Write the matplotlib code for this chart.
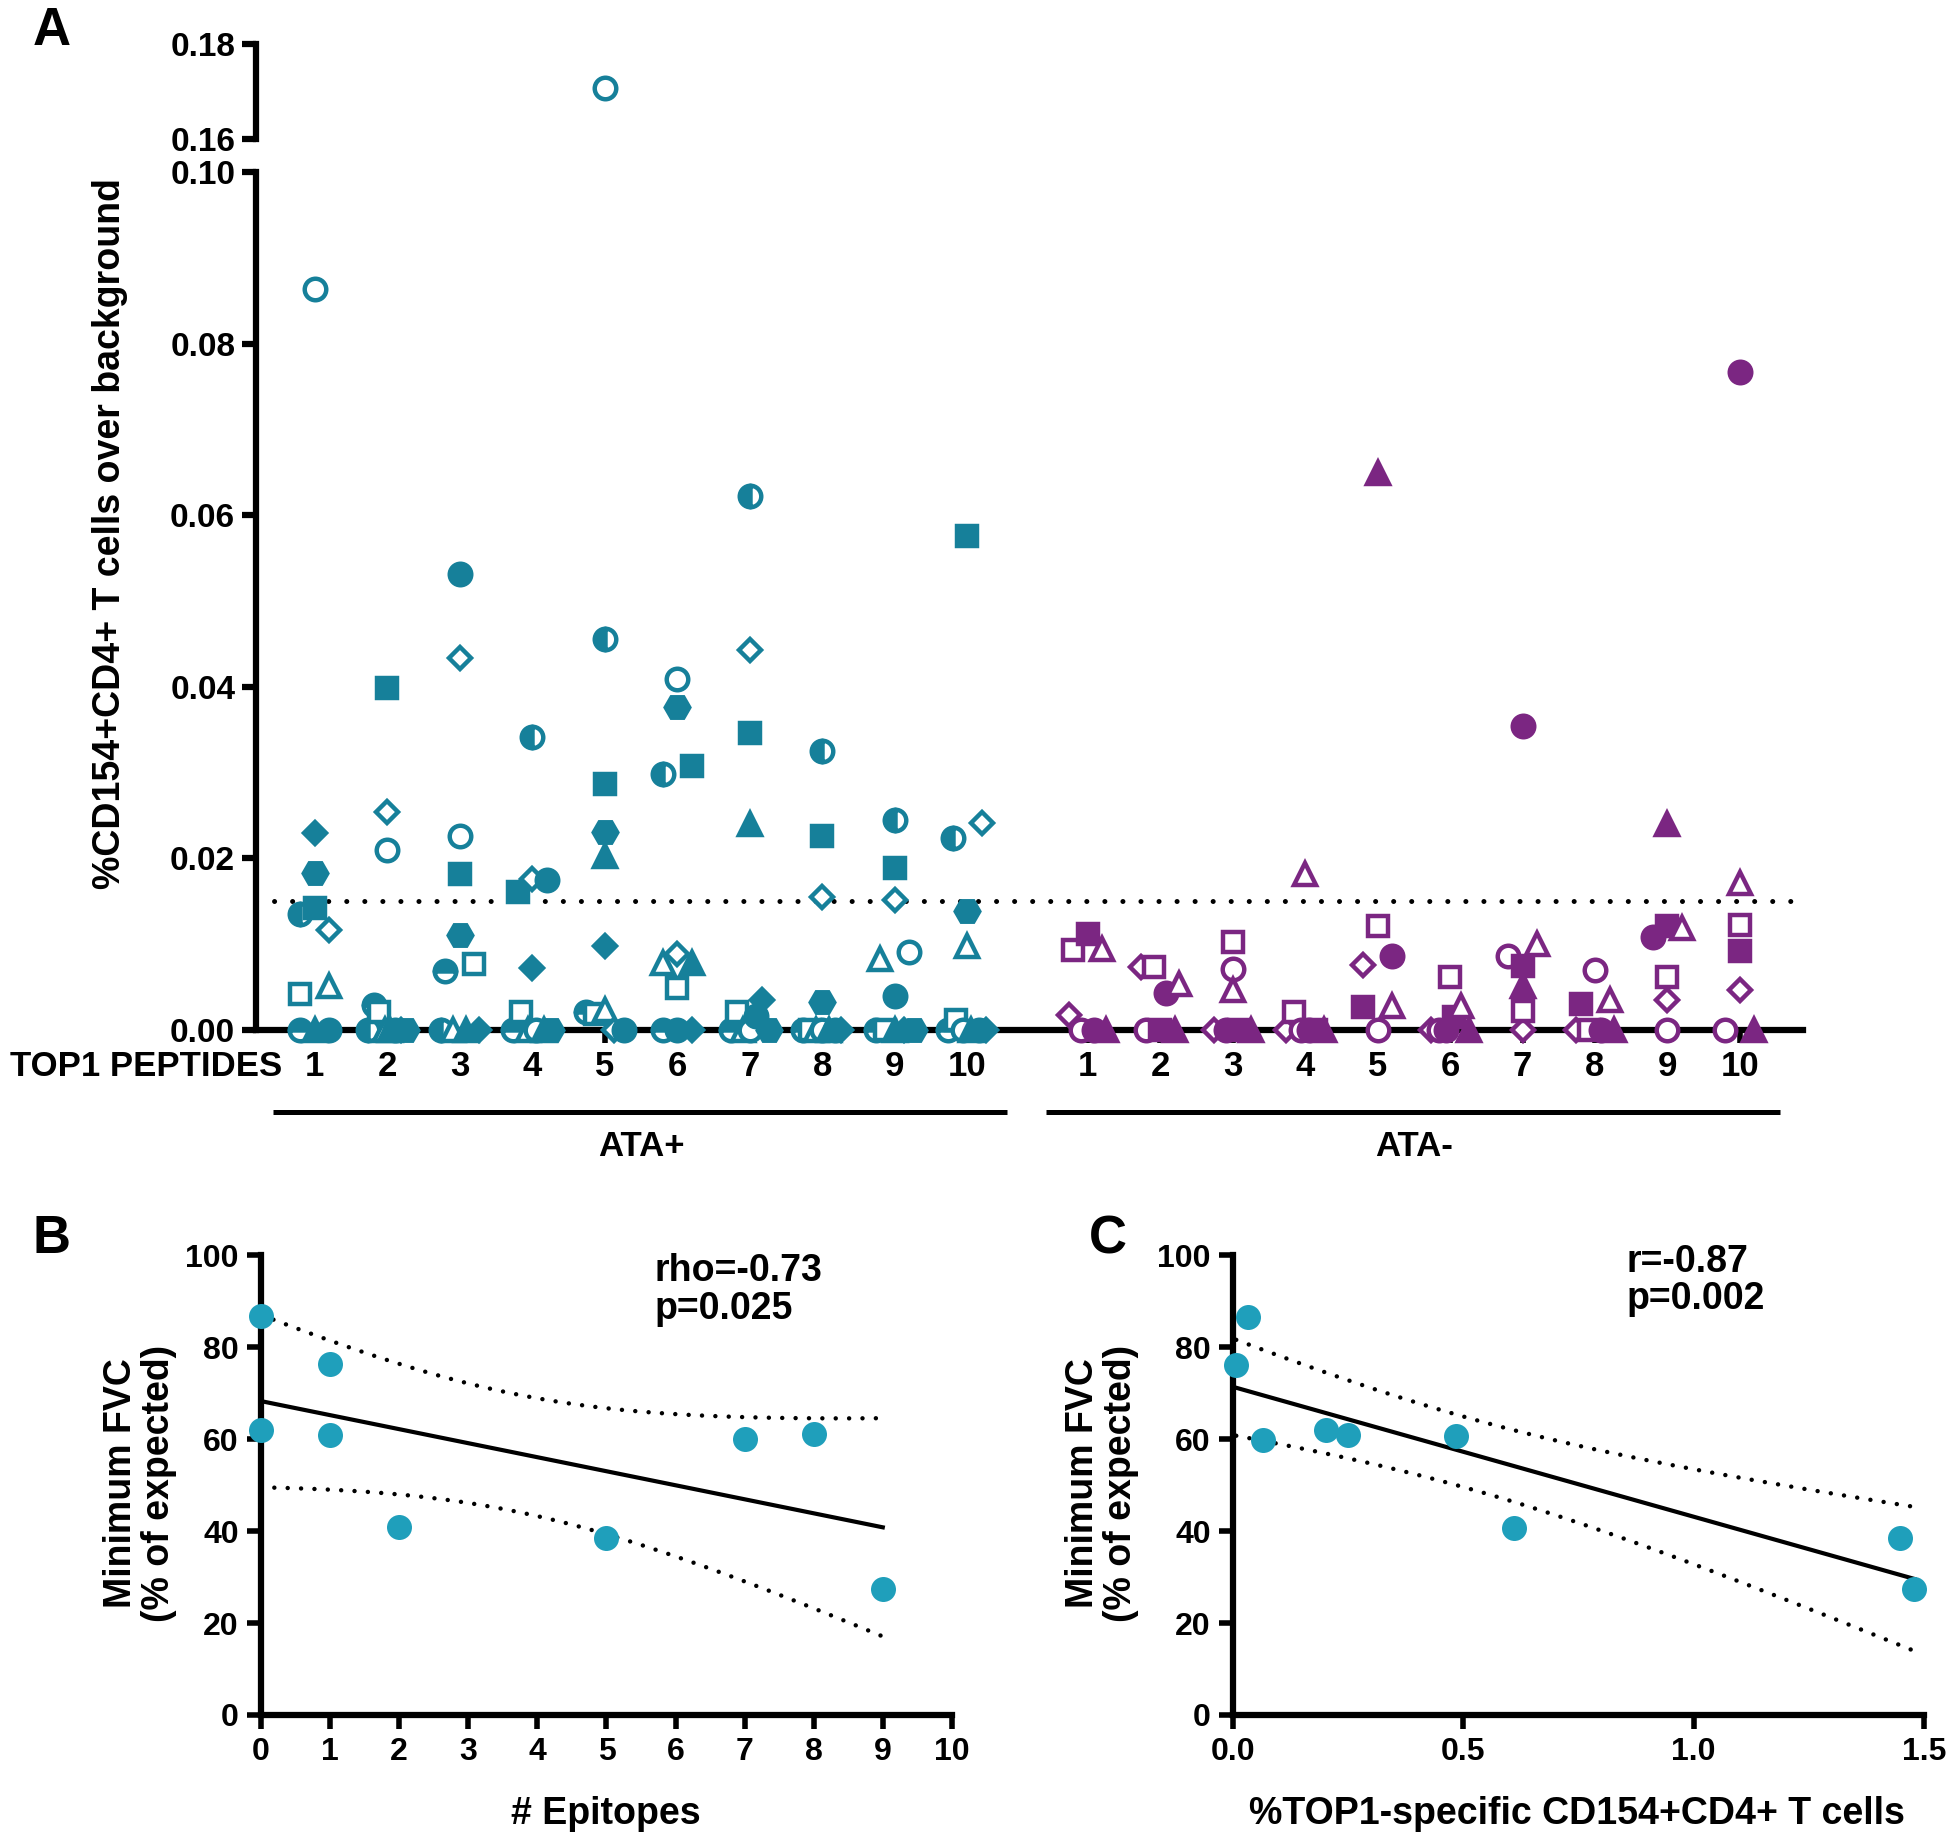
import numpy as np
import matplotlib
matplotlib.use('Agg')
import matplotlib.pyplot as plt
from matplotlib.transforms import blended_transform_factory

plt.rcParams['font.family'] = ['Liberation Sans', 'DejaVu Sans']
plt.rcParams['font.weight'] = 'bold'

TEAL = '#16809a'
PURPLE = '#7b2682'
CYAN = '#1f9fbb'

### Panel A: %CD154+CD4+ T cells over background, one value per TOP1 peptide (1-10)
peptide_labels = ['1', '2', '3', '4', '5', '6', '7', '8', '9', '10']
cutoff = 0.015

# ATA+ patients (one list per symbol)
pos_half_left = [0.0135, 0, 0, 0.0341, 0.0456, 0.0298, 0.0622, 0.0325, 0.0244, 0.0224]
pos_half_top = [0, 0.0029, 0.0068, 0, 0.0021, 0, 0, 0, 0, 0]
pos_filled_square = [0.0142, 0.0399, 0.0181, 0.0160, 0.0286, 0.0307, 0.0346, 0.0226, 0.0189, 0.0576]
pos_open_square = [0.0042, 0.0020, 0.0076, 0.0020, 0.0018, 0.0048, 0.0021, 0, 0, 0.0011]
pos_open_triangle = [0.0051, 0, 0, 0, 0.0023, 0.0078, 0, 0, 0.0082, 0.0098]
pos_open_circle = [0.0864, 0.0210, 0.0226, 0, 0.1707, 0.0409, 0, 0, 0.0090, 0]
pos_open_diamond = [0.0116, 0.0254, 0.0434, 0.0176, 0, 0.0088, 0.0443, 0.0155, 0.0151, 0.0241]
pos_filled_triangle = [0, 0, 0, 0, 0.0203, 0.0078, 0.0240, 0, 0, 0]
pos_filled_circle = [0, 0, 0.0531, 0.0175, 0, 0, 0.0016, 0, 0.0039, 0]
pos_filled_diamond = [0.0229, 0, 0, 0.0072, 0.0098, 0, 0.0034, 0, 0, 0]
pos_hexagon = [0.0183, 0, 0.0110, 0, 0.0230, 0.0376, 0, 0.0032, 0, 0.0138]

# ATA- patients
neg_open_diamond = [0.0017, 0.0073, 0, 0, 0.0075, 0, 0, 0, 0.0034, 0.0046]
neg_open_square = [0.0093, 0.0073, 0.0102, 0.0020, 0.0121, 0.0061, 0.0022, 0, 0.0061, 0.0122]
neg_open_circle = [0, 0, 0.0071, 0, 0, 0, 0.0086, 0.0069, 0, 0]
neg_filled_circle = [0, 0.0043, 0, 0, 0.0086, 0, 0.0354, 0, 0.0108, 0.0767]
neg_filled_square = [0.0112, 0, 0, 0, 0.0026, 0.0015, 0.0074, 0.0030, 0.0121, 0.0092]
neg_open_triangle = [0.0094, 0.0053, 0.0046, 0.0181, 0.0028, 0.0028, 0.0100, 0.0035, 0.0119, 0.0171]
neg_filled_triangle = [0, 0, 0, 0, 0.0649, 0, 0.0051, 0, 0.0240, 0]

### Panel B: minimum FVC vs number of epitopes
epitopes = [0, 0, 1, 1, 2, 5, 7, 8, 9]
fvc_b = [86.8, 62.1, 76.3, 60.9, 40.8, 38.6, 60.0, 61.1, 27.4]

### Panel C: minimum FVC vs %TOP1-specific CD154+CD4+ T cells
top1_pct = [0.007, 0.033, 0.066, 0.202, 0.249, 0.485, 0.611, 1.448, 1.479]
fvc_c = [76.2, 86.6, 59.9, 62.1, 61.0, 60.8, 40.7, 38.6, 27.3]

# symbol for each series: (values, marker, fill)
pos_series = [(pos_half_left, 'o', 'left'), (pos_half_top, 'o', 'top'),
              (pos_filled_square, 's', 'full'), (pos_open_square, 's', 'none'),
              (pos_open_triangle, '^', 'none'), (pos_open_circle, 'o', 'none'),
              (pos_open_diamond, 'D', 'none'), (pos_filled_triangle, '^', 'full'),
              (pos_filled_circle, 'o', 'full'), (pos_filled_diamond, 'D', 'full'),
              (pos_hexagon, 'H', 'full')]
neg_series = [(neg_open_diamond, 'D', 'none'), (neg_open_square, 's', 'none'),
              (neg_open_circle, 'o', 'none'), (neg_filled_circle, 'o', 'full'),
              (neg_filled_square, 's', 'full'), (neg_open_triangle, '^', 'none'),
              (neg_filled_triangle, '^', 'full')]
msize = {'o': 15.5, 's': 15, '^': 16, 'D': 11.5, 'H': 17}


## Put points with close values side by side (like a column scatter)
def spread(values, gap=0.0022):
    order = sorted(range(len(values)), key=lambda i: -values[i])
    clusters = [[order[0]]]
    for i in order[1:]:
        if values[clusters[-1][-1]] - values[i] < gap:
            clusters[-1].append(i)
        else:
            clusters.append([i])
    offsets = [0.0] * len(values)
    for c in clusters:
        n = len(c)
        if n == 1:
            continue
        w = 0.2 if n <= 3 else 0.26
        for k, off in zip(sorted(c), np.linspace(-w, w, n)):
            offsets[k] = off
    return offsets


def draw_point(ax, x, y, marker, fill, color, clip):
    kw = dict(marker=marker, ms=msize[marker], mec=color, mew=3.2, ls='none',
              clip_on=clip, zorder=3)
    if fill == 'none':
        kw.update(mfc='white')
    elif fill == 'full':
        kw.update(mfc=color)
    else:
        kw.update(mfc=color, fillstyle=fill, markerfacecoloralt='white')
    ax.plot([x], [y], **kw)


fig = plt.figure(figsize=(19.59, 18.46), dpi=100)

# Panel A, broken y axis
axA = fig.add_axes([0.1307, 0.4423, 0.7897, 0.4643])
axA_top = fig.add_axes([0.1307, 0.9249, 0.7897, 0.0515])
x_pos = np.arange(1, 11)
x_neg = np.arange(1, 11) + 10.66

for centers, series, color in [(x_pos, pos_series, TEAL), (x_neg, neg_series, PURPLE)]:
    for p in range(10):
        vals = [s[0][p] for s in series]
        offs = spread(vals)
        for (vals_s, marker, fill), off in zip(series, offs):
            v = vals_s[p]
            if v > 0.10:
                draw_point(axA_top, centers[p] + off, v, marker, fill, color, True)
            else:
                draw_point(axA, centers[p] + off, v, marker, fill, color, False)

for ax in (axA, axA_top):
    ax.set_xlim(0.19, 21.53)
    ax.spines['top'].set_visible(False)
    ax.spines['right'].set_visible(False)
    ax.spines['left'].set_linewidth(4.5)
    ax.spines['bottom'].set_linewidth(4.5)
    ax.tick_params(axis='y', length=10, width=4.5, labelsize=24, pad=5)

axA.set_ylim(0, 0.10)
axA.set_yticks([0, 0.02, 0.04, 0.06, 0.08, 0.10])
axA.set_yticklabels(['0.00', '0.02', '0.04', '0.06', '0.08', '0.10'])
axA.set_xticks(list(x_pos) + list(x_neg))
axA.set_xticklabels(peptide_labels + peptide_labels)
axA.tick_params(axis='x', length=9, width=4, labelsize=25, pad=6)
axA.axhline(cutoff, color='k', lw=3.6, ls=(0, (0.01, 3.6)), dash_capstyle='round', zorder=1)

axA_top.set_ylim(0.16, 0.18)
axA_top.set_yticks([0.16, 0.18])
axA_top.set_yticklabels(['0.16', '0.18'])
axA_top.spines['bottom'].set_visible(False)
axA_top.set_xticks([])

trans = blended_transform_factory(axA.transData, axA.transAxes)
axA.annotate('TOP1 PEPTIDES', xy=(0.55, 0), xycoords=trans, xytext=(0, -15),
             textcoords='offset points', ha='right', va='top', fontsize=25)
for centers, name in [(x_pos, 'ATA+'), (x_neg, 'ATA-')]:
    axA.plot([centers[0] - 0.58, centers[-1] + 0.55], [-0.0963, -0.0963], transform=trans,
             color='k', lw=3.6, clip_on=False, solid_capstyle='butt')
    axA.text(centers.mean(), -0.137, name, transform=trans, ha='center', va='center', fontsize=25)

fig.text(52 / 1959, 1 - 31 / 1846, 'A', fontsize=38, ha='center', va='center')
fig.text(110 / 1959, 1 - 534 / 1846, '%CD154+CD4+ T cells over background', rotation=90,
         fontsize=27, ha='center', va='center')


## Linear fit with 95% confidence band of the mean
def fit_band(ax, x, y, t_crit):
    x = np.asarray(x)
    y = np.asarray(y)
    slope, icpt = np.polyfit(x, y, 1)
    n = len(x)
    s = np.sqrt(np.sum((y - (slope * x + icpt)) ** 2) / (n - 2))
    xs = np.linspace(x.min(), x.max(), 100)
    yh = slope * xs + icpt
    se = s * np.sqrt(1 / n + (xs - x.mean()) ** 2 / np.sum((x - x.mean()) ** 2))
    ax.plot(xs, yh, color='k', lw=3, zorder=2)
    for band in (yh + t_crit * se, yh - t_crit * se):
        ax.plot(xs, band, color='k', lw=3.2, ls=(0, (0.01, 3.0)), dash_capstyle='round', zorder=2)


axB = fig.add_axes([0.1332, 0.0710, 0.3527, 0.2489])
axC = fig.add_axes([0.6294, 0.0710, 0.3527, 0.2489])

fit_band(axB, epitopes, fvc_b, 2.365)
axB.plot(epitopes, fvc_b, 'o', color=CYAN, ms=18, mew=0, clip_on=False, zorder=4)
axB.set_xlim(0, 10)
axB.set_xticks(range(0, 11))
axB.text(5.7, 92.5, 'rho=-0.73\np=0.025', fontsize=27, ha='left', va='center', linespacing=1.05)

fit_band(axC, top1_pct, fvc_c, 2.365)
axC.plot(top1_pct, fvc_c, 'o', color=CYAN, ms=18, mew=0, clip_on=False, zorder=4)
axC.set_xlim(0, 1.5)
axC.set_xticks([0, 0.5, 1.0, 1.5])
axC.set_xticklabels(['0.0', '0.5', '1.0', '1.5'])
axC.text(0.854, 94.5, 'r=-0.87\np=0.002', fontsize=27, ha='left', va='center', linespacing=1.05)

for ax in (axB, axC):
    ax.set_ylim(0, 100)
    ax.set_yticks([0, 20, 40, 60, 80, 100])
    ax.spines['top'].set_visible(False)
    ax.spines['right'].set_visible(False)
    ax.spines['left'].set_linewidth(4.5)
    ax.spines['bottom'].set_linewidth(4.5)
    ax.tick_params(length=10, width=4, labelsize=23, pad=6)

fig.text(606 / 1959, 1 - 1814 / 1846, '# Epitopes', fontsize=27, ha='center', va='center')
fig.text(1577 / 1959, 1 - 1814 / 1846, '%TOP1-specific CD154+CD4+ T cells', fontsize=27,
         ha='center', va='center')
for xc in (140, 1102):
    fig.text(xc / 1959, 1 - 1483 / 1846, 'Minimum FVC\n(% of expected)', rotation=90,
             fontsize=27, ha='center', va='center', linespacing=1.1)
fig.text(52 / 1959, 1 - 1239 / 1846, 'B', fontsize=38, ha='center', va='center')
fig.text(1108 / 1959, 1 - 1239 / 1846, 'C', fontsize=38, ha='center', va='center')

fig.savefig('out.png', dpi=100)
